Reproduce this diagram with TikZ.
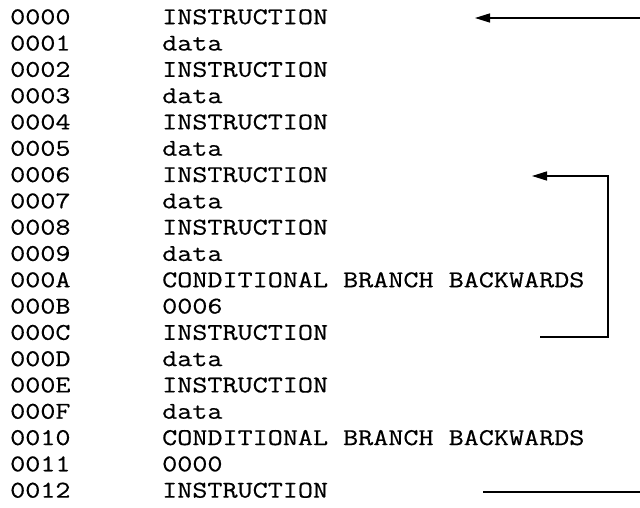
\documentclass[tikz,border=0pt]{standalone}
\usepackage{fontspec}
\setmonofont[FakeStretch=1.22,FakeBold=0.5]{Latin Modern Mono}
\usetikzlibrary{arrows.meta}
\begin{document}
\begin{tikzpicture}[x=1pt,y=-1pt,
  addr/.style={anchor=base west,inner sep=0pt,font=\ttfamily\fontsize{24}{30}\selectfont},
  code/.style={addr},
  link/.style={line width=1.4pt},
  jump/.style={link,-{Triangle[length=15pt,width=9pt]}}]
\useasboundingbox (0,0) rectangle (640,508);
\foreach \ad/\tx [count=\n from 0] in {0000/INSTRUCTION,0001/data,0002/INSTRUCTION,0003/data,0004/INSTRUCTION,0005/data,0006/INSTRUCTION,0007/data,0008/INSTRUCTION,0009/data,000A/CONDITIONAL BRANCH BACKWARDS,000B/0006,000C/INSTRUCTION,000D/data,000E/INSTRUCTION,000F/data,0010/CONDITIONAL BRANCH BACKWARDS,0011/0000,0012/INSTRUCTION}{
  \node[addr] (a\n) at (10,{17+26.3*\n+7.2}) {\ad};
  \node[code] (t\n) at (162,{17+26.3*\n+7.2}) {\tx};
}
% top arrow (to 0000)
\coordinate (s0) at (640,18);
\coordinate (e0) at (475,18);
\draw[jump] (s0) -- (e0);
% bracket from 000C back to 0006
\coordinate (b0) at (540,337);
\coordinate (c0) at (608,337);
\coordinate (e1) at (532,176);
\draw[jump] (b0) -- (c0) |- (e1);
% bottom line at 0012
\coordinate (f0) at (483,492);
\coordinate (f1) at (640,492);
\draw[link] (f0) -- (f1);
\end{tikzpicture}
\end{document}
